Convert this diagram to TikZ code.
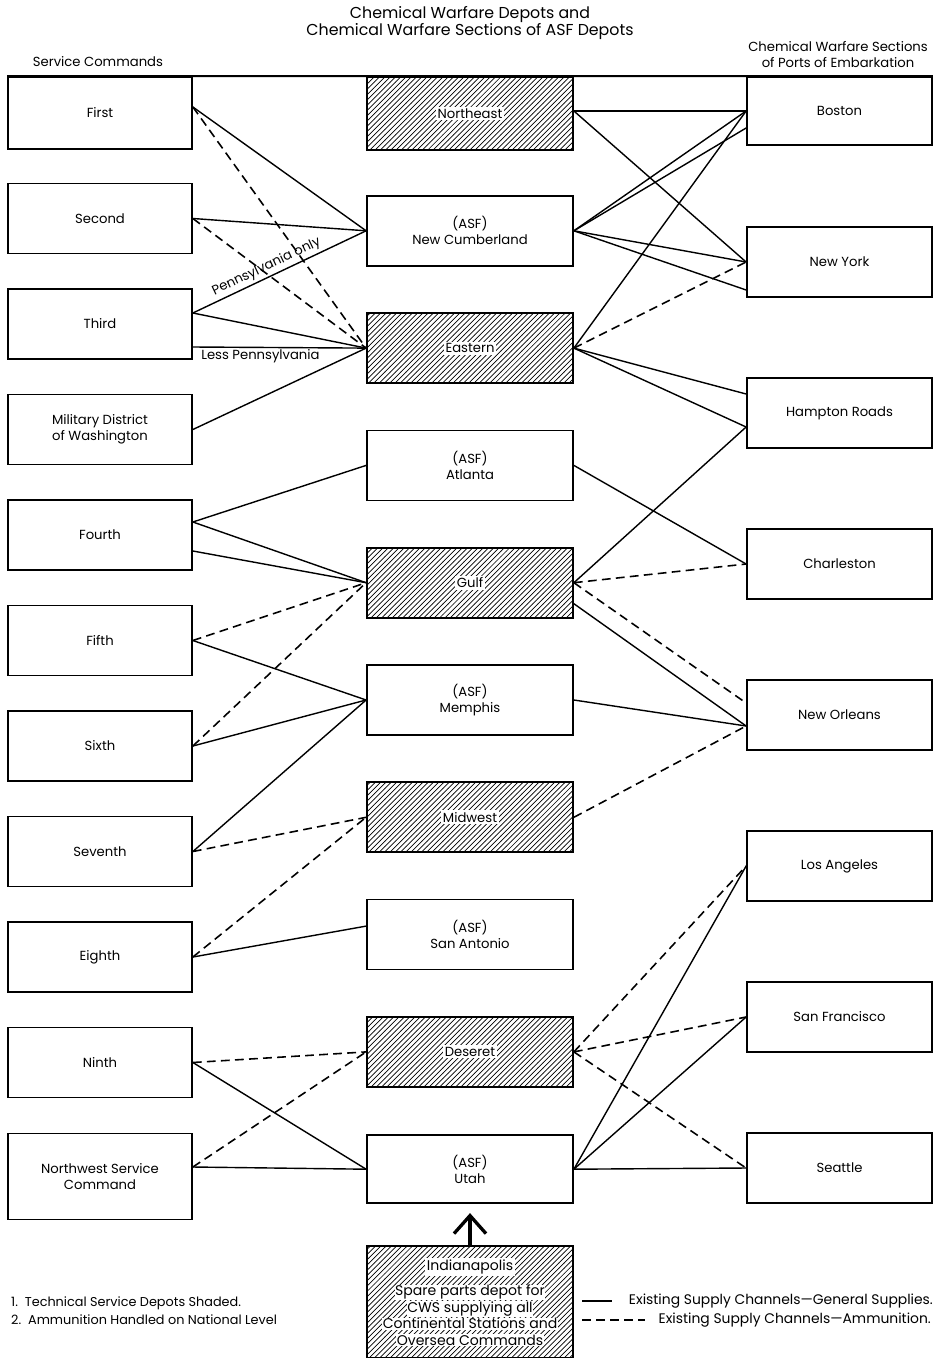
\documentclass[tikz,border=0pt]{standalone}
\usepackage{fontspec}
\setmainfont{Poppins}
\usepackage{xcolor}
\usepackage{tikz}
\usetikzlibrary{arrows.meta}
\usetikzlibrary{calc}
\usetikzlibrary{patterns}
\usetikzlibrary{positioning}

\newcommand{\clearlabel}[1]{{\setlength{\fboxsep}{1pt}\colorbox{white}{#1}}}
\newcommand{\clearline}[1]{{\setlength{\fboxsep}{0.3pt}\colorbox{white}{#1}}}

\begin{document}
\begin{tikzpicture}[font=\fontsize{7.5}{9}\selectfont,
    cmd node/.style={rectangle,draw,line width=1pt,align=center,minimum width=3.68cm,minimum height=1.4cm},
    depot node/.style={rectangle,draw,line width=1pt,align=center,minimum width=4.12cm,minimum height=1.4cm},
    port node/.style={rectangle,draw,line width=1pt,align=center,minimum width=3.7cm,minimum height=1.4cm},
    shaded/.style={pattern=north east lines},
    general/.style={line width=0.8pt},
    ammunition/.style={line width=0.9pt,dash pattern=on 5pt off 3pt}]

    \useasboundingbox (0,0) rectangle (18.7,-27.16);

    % headings
    \node[align=center, font=\fontsize{9}{9.2}\selectfont] (title-depots) at (9.4,-0.46) {Chemical Warfare Depots and\\Chemical Warfare Sections of ASF Depots};
    \node (title-commands) at (1.96,-1.24) {Service Commands};
    \node[align=center] (title-ports) at (16.76,-1.09) {Chemical Warfare Sections\\of Ports of Embarkation};

    % service commands
    \node[cmd node, minimum height=1.44cm] (first) at (2.0,-2.26) {First};
    \node[cmd node, on grid, below=2.11cm of first] (second) {Second};
    \node[cmd node, on grid, below=2.11cm of second] (third) {Third};
    \node[cmd node, on grid, below=2.11cm of third] (mdw) {Military District\\of Washington};
    \node[cmd node, on grid, below=2.11cm of mdw] (fourth) {Fourth};
    \node[cmd node, on grid, below=2.11cm of fourth] (fifth) {Fifth};
    \node[cmd node, on grid, below=2.11cm of fifth] (sixth) {Sixth};
    \node[cmd node, on grid, below=2.11cm of sixth] (seventh) {Seventh};
    \node[cmd node, on grid, below=2.11cm of seventh] (eighth) {Eighth};
    \node[cmd node, on grid, below=2.11cm of eighth] (ninth) {Ninth};
    \node[cmd node, minimum height=1.72cm, on grid, below=2.28cm of ninth] (northwest) {Northwest Service\\Command};

    % depots
    \node[depot node, shaded, minimum height=1.46cm] (northeast) at (9.4,-2.27) {\clearlabel{Northeast}};
    \node[depot node, on grid, below=2.346cm of northeast] (new-cumberland) {(ASF)\\New Cumberland};
    \node[depot node, shaded, on grid, below=2.346cm of new-cumberland] (eastern) {\clearlabel{Eastern}};
    \node[depot node, on grid, below=2.346cm of eastern] (atlanta) {(ASF)\\Atlanta};
    \node[depot node, shaded, on grid, below=2.346cm of atlanta] (gulf) {\clearlabel{Gulf}};
    \node[depot node, on grid, below=2.346cm of gulf] (memphis) {(ASF)\\Memphis};
    \node[depot node, shaded, on grid, below=2.346cm of memphis] (midwest) {\clearlabel{Midwest}};
    \node[depot node, on grid, below=2.346cm of midwest] (san-antonio) {(ASF)\\San Antonio};
    \node[depot node, shaded, on grid, below=2.346cm of san-antonio] (deseret) {\clearlabel{Deseret}};
    \node[depot node, minimum height=1.36cm, on grid, below=2.346cm of deseret] (utah) {(ASF)\\Utah};
    \node[depot node, shaded, minimum height=2.24cm, on grid, below=2.656cm of utah, font=\fontsize{8}{9.4}\selectfont] (indianapolis) {\clearlabel{Indianapolis}\\[4pt]\clearline{Spare parts depot for}\\\clearline{CWS supplying all}\\\clearline{Continental Stations and}\\\clearline{Oversea Commands}};

    % ports
    \node[port node, minimum height=1.36cm] (boston) at (16.79,-2.22) {Boston};
    \node[port node, on grid, below=3.02cm of boston] (new-york) {New York};
    \node[port node, on grid, below=3.02cm of new-york] (hampton-roads) {Hampton Roads};
    \node[port node, on grid, below=3.02cm of hampton-roads] (charleston) {Charleston};
    \node[port node, on grid, below=3.02cm of charleston] (new-orleans) {New Orleans};
    \node[port node, on grid, below=3.02cm of new-orleans] (los-angeles) {Los Angeles};
    \node[port node, on grid, below=3.02cm of los-angeles] (san-francisco) {San Francisco};
    \node[port node, on grid, below=3.02cm of san-francisco] (seattle) {Seattle};

    \draw[line width=1pt] (first.north west) -- (boston.north east);

    % general supplies
    \path[general]
        ([yshift=0.12cm]first.east) edge (new-cumberland.west)
        (second.east) edge (new-cumberland.west)
        ([yshift=0.22cm]third.east) edge node[sloped, above, pos=0.45, inner sep=1.5pt] {Pennsylvania only} (new-cumberland.west)
        ([yshift=0.22cm]third.east) edge (eastern.west)
        ([yshift=-0.46cm]third.east) edge node[below, pos=0.39, inner sep=1pt] {Less Pennsylvania} (eastern.west)
        (mdw.east) edge (eastern.west)
        ([yshift=0.26cm]fourth.east) edge (atlanta.west)
        ([yshift=0.26cm]fourth.east) edge (gulf.west)
        ([yshift=-0.32cm]fourth.east) edge (gulf.west)
        (fifth.east) edge (memphis.west)
        (sixth.east) edge (memphis.west)
        (seventh.east) edge (memphis.west)
        (eighth.east) edge ([yshift=0.17cm]san-antonio.west)
        (ninth.east) edge (utah.west)
        ([yshift=0.19cm]northwest.east) edge (utah.west)
        (boston.west -| northeast.east) edge (boston.west)
        (boston.west -| northeast.east) edge (new-york.west)
        (new-cumberland.east) edge (boston.west)
        (new-cumberland.east) edge ([yshift=-0.34cm]boston.west)
        (new-cumberland.east) edge (new-york.west)
        (new-cumberland.east) edge ([yshift=-0.56cm]new-york.west)
        (eastern.east) edge (boston.west)
        (eastern.east) edge ([yshift=0.38cm]hampton-roads.west)
        (eastern.east) edge ([yshift=-0.28cm]hampton-roads.west)
        (atlanta.east) edge (charleston.west)
        (gulf.east) edge ([yshift=-0.28cm]hampton-roads.west)
        ([yshift=-0.42cm]gulf.east) edge ([yshift=-0.22cm]new-orleans.west)
        (memphis.east) edge ([yshift=-0.22cm]new-orleans.west)
        (utah.east) edge (los-angeles.west)
        (utah.east) edge (san-francisco.west)
        (utah.east) edge (seattle.west);

    % ammunition
    \path[ammunition]
        ([yshift=0.12cm]first.east) edge (eastern.west)
        (second.east) edge (eastern.west)
        (fifth.east) edge (gulf.west)
        (sixth.east) edge (gulf.west)
        (seventh.east) edge (midwest.west)
        (eighth.east) edge (midwest.west)
        (ninth.east) edge (deseret.west)
        ([yshift=0.19cm]northwest.east) edge (deseret.west)
        (eastern.east) edge (new-york.west)
        (gulf.east) edge (charleston.west)
        (gulf.east) edge ([yshift=0.24cm]new-orleans.west)
        (midwest.east) edge ([yshift=-0.22cm]new-orleans.west)
        (deseret.east) edge (los-angeles.west)
        (deseret.east) edge (san-francisco.west)
        (deseret.east) edge (seattle.west);

    \draw[line width=1.9pt, -{Straight Barb[length=0.36cm,width=0.64cm]}, shorten >=0.18cm] (indianapolis.north) -- (utah.south);

    % notes and legend
    \node[align=left, anchor=west, font=\fontsize{7.3}{9}\selectfont] (notes) at (0.1,-26.22) {1.\ \ Technical Service Depots Shaded.\\[1.2pt]2.\ \ Ammunition Handled on National Level};
    \coordinate (gen-a) at (11.64,-26.02);
    \coordinate (gen-b) at (12.24,-26.02);
    \coordinate (ammo-a) at (11.64,-26.4);
    \coordinate (ammo-b) at (12.9,-26.4);
    \draw[general] (gen-a) -- (gen-b);
    \draw[ammunition] (ammo-a) -- (ammo-b);
    \node[anchor=east, font=\fontsize{7.9}{9}\selectfont, inner xsep=1pt] (legend-general) at (18.7,-26.02) {Existing Supply Channels---General Supplies.};
    \node[anchor=east, font=\fontsize{7.9}{9}\selectfont, inner xsep=1pt] (legend-ammunition) at (18.66,-26.4) {Existing Supply Channels---Ammunition.};

\end{tikzpicture}
\end{document}
